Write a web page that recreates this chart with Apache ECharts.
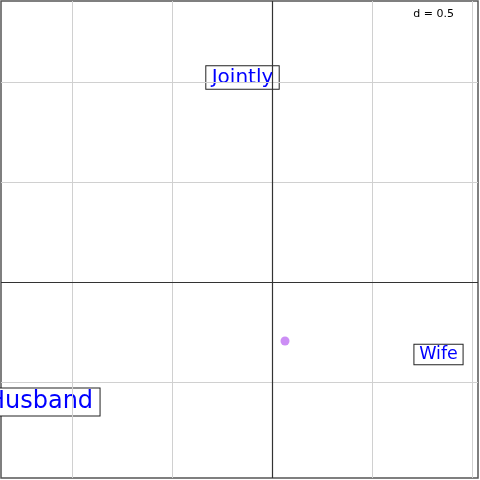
<!DOCTYPE html>
<html><head><meta charset="utf-8">
<script src="https://cdn.jsdelivr.net/npm/echarts@6/dist/echarts.min.js"></script>
<style>html,body{margin:0;padding:0;background:#fff}#c{width:480px;height:480px}</style>
</head><body><div id="c"></div>
<script>
var labelNames = ['Jointly', 'Wife', 'Husband'];
var labelX = [-0.1475, 0.8325, -1.16];
var labelY = [1.0225, -0.3625, -0.60];
var labelSizes = [20, 17.5, 24];
var pointX = [0.065];
var pointY = [-0.295];
var gridX = [-1, -0.5, 0.5, 1];
var gridY = [-0.5, 0.5, 1];
var scaleText = 'd = 0.5';

var chart = echarts.init(document.getElementById('c'));
var labelData = labelNames.map(function (n, i) {
  var s = labelSizes[i];
  return {
    value: [labelX[i], labelY[i]], name: n,
    label: { fontSize: s, lineHeight: s * 1.0, padding: [s * 0.12, s * 0.27, 0, s * 0.27] }
  };
});
var gridLines = gridX.map(function (v) { return { xAxis: v }; })
  .concat(gridY.map(function (v) { return { yAxis: v }; }));
chart.setOption({
  animation: false,
  grid: { left: 1, top: 1, width: 477, height: 477, show: true, borderColor: '#555', borderWidth: 1.5, backgroundColor: '#fff' },
  xAxis: { type: 'value', min: -1.355, max: 1.03, axisLine: { show: false }, axisTick: { show: false }, axisLabel: { show: false }, splitLine: { show: false } },
  yAxis: { type: 'value', min: -0.98, max: 1.405, axisLine: { show: false }, axisTick: { show: false }, axisLabel: { show: false }, splitLine: { show: false } },
  series: [
    {
      type: 'line', data: [], silent: true,
      markLine: { silent: true, symbol: 'none', label: { show: false }, animation: false,
        lineStyle: { color: '#d0d0d0', width: 1, type: 'solid', opacity: 1 }, data: gridLines }
    },
    {
      type: 'line', data: [], silent: true,
      markLine: { silent: true, symbol: 'none', label: { show: false }, animation: false,
        lineStyle: { color: '#333', width: 1.2, type: 'solid', opacity: 1 }, data: [{ xAxis: 0 }, { yAxis: 0 }] }
    },
    {
      type: 'scatter', symbolSize: 9, itemStyle: { color: '#cc8ef5', opacity: 1 },
      data: pointX.map(function (x, i) { return [x, pointY[i]]; })
    },
    {
      type: 'scatter', symbolSize: 0, data: labelData, itemStyle: { opacity: 1 },
      label: { show: true, position: 'inside', formatter: '{b}', color: '#0000ff', fontFamily: 'DejaVu Sans',
        backgroundColor: '#fff', borderColor: '#222', borderWidth: 1, opacity: 1 }
    }
  ],
  graphic: [{
    type: 'text', right: 26, top: 9,
    style: { text: scaleText, fontSize: 11, fontFamily: 'DejaVu Sans', fill: '#000' }
  }]
});
</script></body></html>
